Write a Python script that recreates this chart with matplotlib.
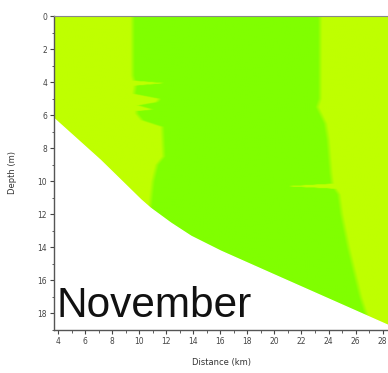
import numpy as np
import matplotlib
matplotlib.use("Agg")
import matplotlib.pyplot as plt
from matplotlib.colors import LinearSegmentedColormap

# boundary between yellow-green (west) and green (middle) water, by depth
left_depth = [0, 3.6, 3.9, 4.05, 4.2, 4.7, 5.0, 5.2, 5.4, 5.65, 5.75, 5.9, 6.3, 6.7, 8.5, 9.0, 10.0, 11.5]
left_km = [9.5, 9.5, 9.6, 11.9, 9.7, 9.6, 11.5, 11.3, 9.9, 11.0, 9.8, 9.8, 10.2, 11.7, 11.8, 11.3, 11.0, 10.8]

# boundary between green (middle) and yellow-green (east) water, by depth
right_depth = [0, 5.0, 5.5, 6.5, 7.5, 8.5, 9.5, 10.15, 10.3, 10.45, 10.8, 12.0, 14.0, 16.0, 17.0, 19.0]
right_km = [23.4, 23.4, 23.2, 23.8, 24.0, 24.1, 24.2, 24.3, 20.8, 24.5, 24.8, 25.0, 25.5, 26.1, 26.4, 27.2]

# sea floor profile
bottom_km = [3.5, 3.7, 7.1, 10.1, 10.8, 12.3, 13.8, 16.0, 20.4, 28.4, 29.0]
bottom_depth = [6.0, 6.2, 8.7, 11.1, 11.6, 12.5, 13.3, 14.2, 15.8, 18.7, 19.0]

x_ticks = list(range(4, 29, 2))
y_ticks = list(range(0, 19, 2))

xs = np.linspace(3.7, 28.4, 500)
ds = np.linspace(0, 19, 500)
X, D = np.meshgrid(xs, ds)
L = np.interp(ds, left_depth, left_km)[:, None]
R = np.interp(ds, right_depth, right_km)[:, None]
w = 0.35
field = np.clip((X - L) / w + 0.5, 0, 1) * np.clip((R - X) / w + 0.5, 0, 1)

fig = plt.figure(figsize=(3.88, 3.73), dpi=100)
ax = fig.add_axes([54 / 388, 1 - 330 / 373, 1 - 54 / 388, (330 - 16) / 373])

cmap = LinearSegmentedColormap.from_list("gy", ["#bfff00", "#80ff00"])
ax.imshow(field, cmap=cmap, extent=[3.7, 28.4, 19, 0], aspect="auto",
          interpolation="bilinear", origin="upper", vmin=0, vmax=1)
ax.fill_between(bottom_km, bottom_depth, 19.5, color="white", zorder=2)

ax.set_xlim(3.7, 28.4)
ax.set_ylim(19, 0)
ax.set_xticks(x_ticks)
ax.set_yticks(y_ticks)
ax.set_xticks(np.arange(4, 29, 1), minor=True)
ax.set_yticks(np.arange(0, 20, 1), minor=True)
ax.tick_params(which="major", length=3, width=0.8, labelsize=5.5,
               colors="#444444", direction="out", pad=2)
ax.tick_params(which="minor", length=1.8, width=0.6, colors="#444444")

for s in ["left", "bottom"]:
    ax.spines[s].set_color("#555555")
    ax.spines[s].set_linewidth(1.0)
ax.spines["top"].set_color("#888888")
ax.spines["right"].set_visible(False)
for s in ax.spines.values():
    s.set_zorder(5)

ax.set_xlabel("Distance (km)", fontsize=6, color="#333333", labelpad=9)
ax.set_ylabel("Depth (m)", fontsize=6, color="#333333", labelpad=15)

ax.text(3.9, 18.2, "November", fontsize=30.5, family="Liberation Sans",
        va="baseline", ha="left", color="#111111", zorder=4)

fig.savefig("out.png", dpi=100)
